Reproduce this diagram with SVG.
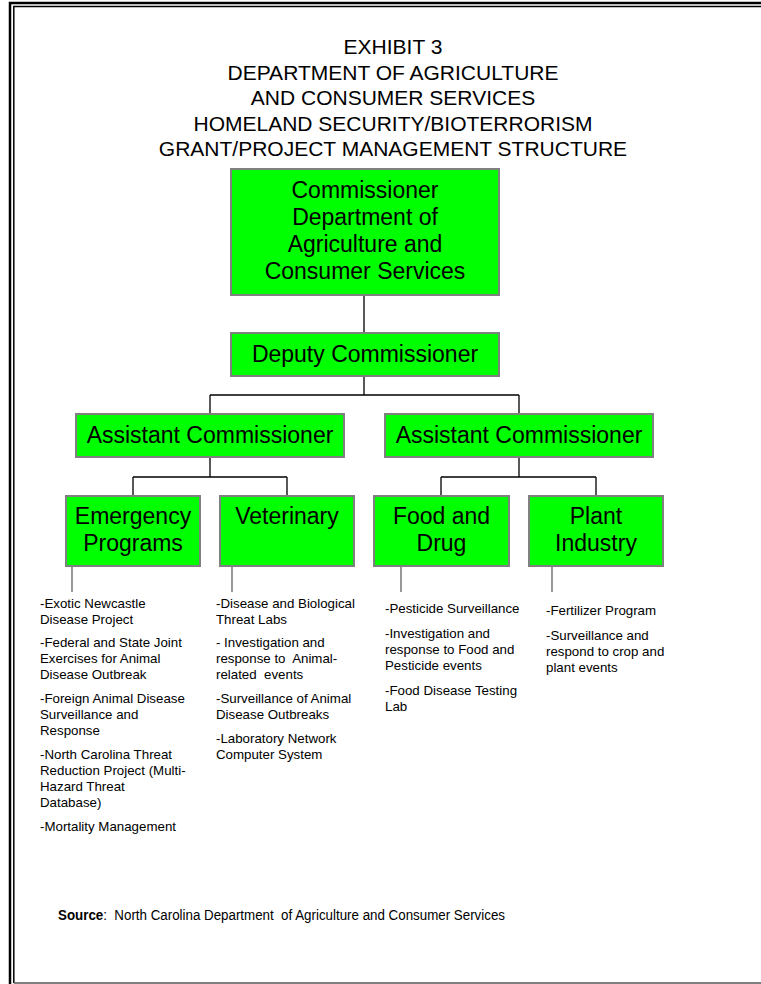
<svg xmlns="http://www.w3.org/2000/svg" width="761" height="984" viewBox="0 0 761 984">
<style>
text{font-family:"Liberation Sans",Arial,sans-serif;fill:#000}
.title{font-size:21px;text-anchor:middle}
.box rect{fill:#00ff00;stroke:#808080;stroke-width:2}
.box text{font-size:23px;text-anchor:middle}
.conn{stroke:#000;stroke-width:1.3;fill:none}
.lead{stroke:#555;stroke-width:1.2;fill:none}
.list{font-size:13.3px}
</style>
<rect x="0" y="0" width="761" height="984" fill="#fff"/>
<g id="frame" fill="none">
<path d="M10 984V3H761" stroke="#000" stroke-width="2.5"/>
<path d="M13.8 983V6.4H761" stroke="#000" stroke-width="1.5"/>
<path d="M13.8 983H761" stroke="#555" stroke-width="1.7"/>
</g>
<g id="title" class="title">
<text x="393" y="54">EXHIBIT 3</text>
<text x="393" y="79.5">DEPARTMENT OF AGRICULTURE</text>
<text x="393" y="105">AND CONSUMER SERVICES</text>
<text x="393" y="130.5">HOMELAND SECURITY/BIOTERRORISM</text>
<text x="393" y="156">GRANT/PROJECT MANAGEMENT STRUCTURE</text>
</g>
<g id="connectors">
<path class="conn" d="M364 295V333M364 376V395M210 395H519M210 395V414M519 395V414"/>
<path class="conn" d="M210 457V477M133 477H287M133 477V496M287 477V496"/>
<path class="conn" d="M519 457V477M441 477H596M441 477V496M596 477V496"/>
<path class="lead" d="M72 566V592M232 566V592M401 566V592M552 566V592"/>
</g>
<g id="commissioner" class="box">
<rect x="231" y="169" width="268" height="126"/>
<text x="365" y="198">Commissioner</text>
<text x="365" y="225">Department of</text>
<text x="365" y="252">Agriculture and</text>
<text x="365" y="279">Consumer Services</text>
</g>
<g id="deputy" class="box">
<rect x="231" y="333" width="268" height="43"/>
<text x="365" y="362">Deputy Commissioner</text>
</g>
<g id="asst-left" class="box">
<rect x="76" y="414" width="268" height="43"/>
<text x="210" y="443">Assistant Commissioner</text>
</g>
<g id="asst-right" class="box">
<rect x="385" y="414" width="268" height="43"/>
<text x="519" y="443">Assistant Commissioner</text>
</g>
<g id="emergency" class="box">
<rect x="66" y="496" width="134" height="70"/>
<text x="133" y="524">Emergency</text>
<text x="133" y="551">Programs</text>
</g>
<g id="veterinary" class="box">
<rect x="220" y="496" width="134" height="70"/>
<text x="287" y="524">Veterinary</text>
</g>
<g id="food" class="box">
<rect x="374" y="496" width="135" height="70"/>
<text x="441.5" y="524">Food and</text>
<text x="441.5" y="551">Drug</text>
</g>
<g id="plant" class="box">
<rect x="529" y="496" width="134" height="70"/>
<text x="596" y="524">Plant</text>
<text x="596" y="551">Industry</text>
</g>
<g id="list-emergency" class="list">
<text x="40" y="608">-Exotic Newcastle</text>
<text x="40" y="624">Disease Project</text>
<text x="40" y="647">-Federal and State Joint</text>
<text x="40" y="663">Exercises for Animal</text>
<text x="40" y="679">Disease Outbreak</text>
<text x="40" y="703">-Foreign Animal Disease</text>
<text x="40" y="719">Surveillance and</text>
<text x="40" y="735">Response</text>
<text x="40" y="759">-North Carolina Threat</text>
<text x="40" y="775">Reduction Project (Multi-</text>
<text x="40" y="791">Hazard Threat</text>
<text x="40" y="807">Database)</text>
<text x="40" y="831">-Mortality Management</text>
</g>
<g id="list-veterinary" class="list">
<text x="216" y="608">-Disease and Biological</text>
<text x="216" y="624">Threat Labs</text>
<text x="216" y="647" xml:space="preserve">- Investigation and</text>
<text x="216" y="663" xml:space="preserve">response to  Animal-</text>
<text x="216" y="679" xml:space="preserve">related  events</text>
<text x="216" y="703">-Surveillance of Animal</text>
<text x="216" y="719">Disease Outbreaks</text>
<text x="216" y="743">-Laboratory Network</text>
<text x="216" y="759">Computer System</text>
</g>
<g id="list-food" class="list">
<text x="385" y="613">-Pesticide Surveillance</text>
<text x="385" y="638">-Investigation and</text>
<text x="385" y="654">response to Food and</text>
<text x="385" y="670">Pesticide events</text>
<text x="385" y="695">-Food Disease Testing</text>
<text x="385" y="711">Lab</text>
</g>
<g id="list-plant" class="list">
<text x="546" y="615">-Fertilizer Program</text>
<text x="546" y="640">-Surveillance and</text>
<text x="546" y="656">respond to crop and</text>
<text x="546" y="672">plant events</text>
</g>
<g id="source">
<text x="58" y="920" font-size="14" xml:space="preserve" textLength="447" lengthAdjust="spacingAndGlyphs"><tspan font-weight="bold">Source</tspan>:  North Carolina Department  of Agriculture and Consumer Services</text>
</g>
</svg>
